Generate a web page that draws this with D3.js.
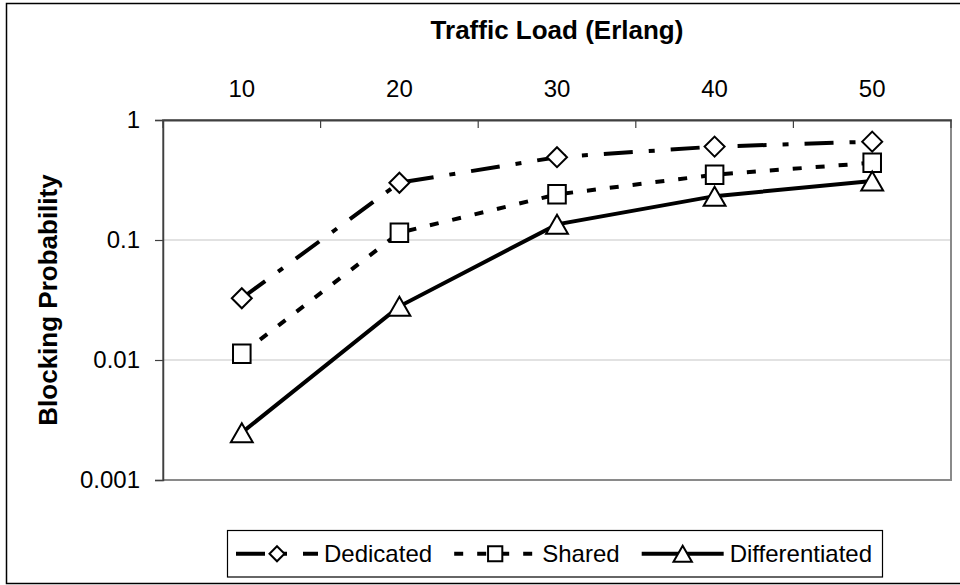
<!DOCTYPE html>
<html>
<head>
<meta charset="utf-8">
<script src="https://cdn.jsdelivr.net/npm/d3@7"></script>
<style>
  html, body { margin: 0; padding: 0; background: #fff; }
  svg { display: block; font-family: "Liberation Sans", Arial, sans-serif; }
</style>
</head>
<body>
<svg id="chart" width="960" height="585"></svg>
<script>
// ---- Data ----
const categories = [10, 20, 30, 40, 50];
const dedicated = [0.0327, 0.30, 0.49, 0.60, 0.66];
const shared = [0.0113, 0.115, 0.24, 0.35, 0.44];
const differentiated = [0.00248, 0.028, 0.135, 0.232, 0.31];
const yTickValues = [1, 0.1, 0.01, 0.001];
const yTickLabels = ["1", "0.1", "0.01", "0.001"];
const seriesNames = ["Dedicated", "Shared", "Differentiated"];
const xTitle = "Traffic Load (Erlang)";
const yTitle = "Blocking Probability";

// ---- Layout ----
const W = 960, H = 585;
const plot = { left: 163, right: 951, top: 120, bottom: 480 };
const svg = d3.select("#chart");

// Outer frame
svg.append("rect")
  .attr("x", 6.5).attr("y", 3.5).attr("width", 970).attr("height", 580)
  .attr("fill", "#fff").attr("stroke", "#000").attr("stroke-width", 1.5);

const x = d3.scaleBand().domain(categories).range([plot.left, plot.right]).padding(0);
const y = d3.scaleLog().domain([0.001, 1]).range([plot.bottom, plot.top]);

// Gridlines
svg.append("g").selectAll("line")
  .data(yTickValues.filter(v => v < 1 && v > 0.001))
  .join("line")
  .attr("x1", plot.left).attr("x2", plot.right)
  .attr("y1", d => y(d)).attr("y2", d => y(d))
  .attr("stroke", "#d9d9d9").attr("stroke-width", 1.5);

// Plot area border
svg.append("rect")
  .attr("x", plot.left).attr("y", plot.top)
  .attr("width", plot.right - plot.left).attr("height", plot.bottom - plot.top)
  .attr("fill", "none").attr("stroke", "#8a8a8a").attr("stroke-width", 2);

// X axis (top) — labels at band centers
const xAxis = d3.axisTop(x).tickSize(0).tickPadding(23);
const gx = svg.append("g").attr("transform", `translate(0,${plot.top})`).call(xAxis);
gx.select(".domain").attr("stroke", "#404040").attr("stroke-width", 2);
gx.selectAll("text").attr("font-size", 24).attr("fill", "#000")
  .attr("font-family", "Liberation Sans, Arial, sans-serif");
// Category boundary ticks, pointing down into plot
const boundaries = categories.map(c => x(c)).concat([x(categories[categories.length - 1]) + x.bandwidth()]);
svg.append("g").selectAll("line").data(boundaries).join("line")
  .attr("x1", d => d).attr("x2", d => d)
  .attr("y1", plot.top).attr("y2", plot.top + 8)
  .attr("stroke", "#404040").attr("stroke-width", 1.2);

// Y axis
const yAxis = d3.axisLeft(y).tickValues(yTickValues)
  .tickFormat((d, i) => yTickLabels[i]).tickSize(8).tickPadding(15);
const gy = svg.append("g").attr("transform", `translate(${plot.left},0)`).call(yAxis);
gy.select(".domain").attr("stroke", "#404040").attr("stroke-width", 1.5);
gy.selectAll(".tick line").attr("stroke", "#404040").attr("stroke-width", 1.2);
gy.selectAll("text").attr("font-size", 24).attr("fill", "#000")
  .attr("font-family", "Liberation Sans, Arial, sans-serif");

// Titles
svg.append("text")
  .attr("x", (plot.left + plot.right) / 2).attr("y", 39)
  .attr("text-anchor", "middle").attr("font-size", 26).attr("font-weight", "bold")
  .text(xTitle);
svg.append("text")
  .attr("transform", `translate(57,${(plot.top + plot.bottom) / 2}) rotate(-90)`)
  .attr("text-anchor", "middle").attr("font-size", 26).attr("font-weight", "bold")
  .text(yTitle);

// ---- Marker symbol types ----
const diamondType = { draw(ctx, size) { const r = Math.sqrt(size) / 2;
  ctx.moveTo(0, -r); ctx.lineTo(r, 0); ctx.lineTo(0, r); ctx.lineTo(-r, 0); ctx.closePath(); } };
const squareType = { draw(ctx, size) { const r = Math.sqrt(size) / 2;
  ctx.rect(-r * 0.95, -r, 2 * r * 0.95, 2 * r); } };
const triangleType = { draw(ctx, size) { const s = Math.sqrt(size); const w = s * 1.15 / 2, h = s / 2;
  ctx.moveTo(0, -h); ctx.lineTo(w, h); ctx.lineTo(-w, h); ctx.closePath(); } };

const series = [
  { name: seriesNames[0], values: dedicated, dash: "29,16,6,16", symbol: diamondType, size: 20 * 20, lsize: 15 * 15 },
  { name: seriesNames[1], values: shared, dash: "9,14", symbol: squareType, size: 18.5 * 18.5, lsize: 15 * 15 },
  { name: seriesNames[2], values: differentiated, dash: null, symbol: triangleType, size: 19 * 19, lsize: 16 * 16 }
];

const line = d3.line().x((d, i) => x(categories[i]) + x.bandwidth() / 2).y(d => y(d));

const gSeries = svg.append("g");
series.forEach(s => {
  gSeries.append("path")
    .attr("d", line(s.values))
    .attr("fill", "none").attr("stroke", "#000").attr("stroke-width", 4)
    .attr("stroke-dasharray", s.dash);
});
series.forEach(s => {
  gSeries.append("g").selectAll("path").data(s.values).join("path")
    .attr("transform", (d, i) => `translate(${x(categories[i]) + x.bandwidth() / 2},${y(d)})`)
    .attr("d", d3.symbol().type(s.symbol).size(s.size)())
    .attr("fill", "#fff").attr("stroke", "#000").attr("stroke-width", 2);
});

// ---- Legend ----
const legend = { left: 227.5, right: 882.5, top: 530.5, bottom: 577 };
svg.append("rect")
  .attr("x", legend.left).attr("y", legend.top)
  .attr("width", legend.right - legend.left).attr("height", legend.bottom - legend.top)
  .attr("fill", "#fff").attr("stroke", "#000").attr("stroke-width", 1.2);

const lineLen = 82, textGap = 6;
const cy = (legend.top + legend.bottom) / 2;
const lg = svg.append("g");
// measure text widths
const widths = series.map(s => {
  const t = lg.append("text").attr("font-size", 24).text(s.name);
  const w = t.node().getComputedTextLength(); t.remove(); return w;
});
const startX = 236, endX = 872;
const total = series.reduce((a, s, i) => a + lineLen + textGap + widths[i], 0);
const spacing = (endX - startX - total) / (series.length - 1);
let cx = startX;
series.forEach((s, i) => {
  lg.append("line")
    .attr("x1", cx).attr("x2", cx + lineLen).attr("y1", cy).attr("y2", cy)
    .attr("stroke", "#000").attr("stroke-width", 4).attr("stroke-dasharray", s.dash);
  lg.append("path")
    .attr("transform", `translate(${cx + lineLen / 2},${cy})`)
    .attr("d", d3.symbol().type(s.symbol).size(s.lsize)())
    .attr("fill", "#fff").attr("stroke", "#000").attr("stroke-width", 2);
  lg.append("text")
    .attr("x", cx + lineLen + textGap).attr("y", cy).attr("dy", "0.35em")
    .attr("font-size", 24).text(s.name);
  cx += lineLen + textGap + widths[i] + spacing;
});
</script>
</body>
</html>
